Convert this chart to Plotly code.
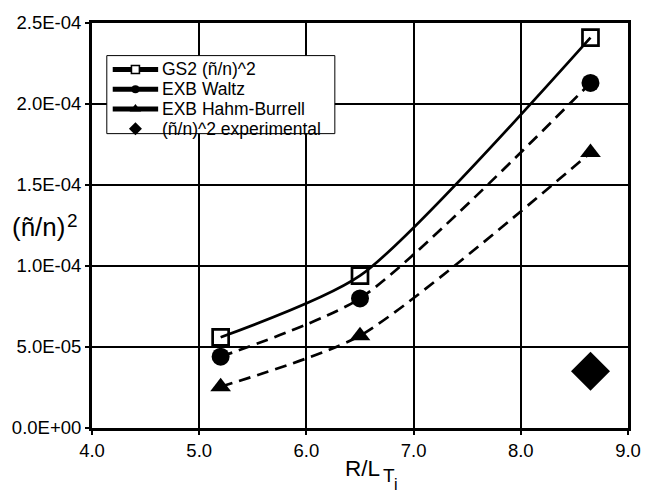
import plotly.graph_objects as go

# R/L_Ti values of the three simulated cases
r_lti = [5.2, 6.5, 8.65]
gs2_fluct = [5.6e-05, 9.4e-05, 2.41e-04]
exb_waltz = [4.4e-05, 8.0e-05, 2.13e-04]
exb_hahm_burrell = [2.55e-05, 5.7e-05, 1.70e-04]

# experimental point
exp_x = [8.65]
exp_fluct = [3.5e-05]

y_ticks = [0, 5e-05, 1e-04, 1.5e-04, 2e-04, 2.5e-04]
y_tick_text = ["0.0E+00", "5.0E-05", "1.0E-04", "1.5E-04", "2.0E-04", "2.5E-04"]
x_ticks = [4, 5, 6, 7, 8, 9]
x_tick_text = ["4.0", "5.0", "6.0", "7.0", "8.0", "9.0"]

legend_names = ["GS2 (ñ/n)^2", "EXB Waltz", "EXB Hahm-Burrell", "(ñ/n)^2 experimental"]

FONT = "Liberation Sans, Arial, Helvetica, sans-serif"
SMOOTH = 0.65
W, H = 653, 493
L, R, T, B = 92, 18, 18, 65   # plot margins in px
X_RANGE = [4, 9]
Y_RANGE = [0, 2.5e-04]


def px_x(p):
    return (p - L) / (W - L - R)


def px_y(p):
    return (H - B - p) / (H - T - B)


def dx(p):  # pixel column -> x data value
    return X_RANGE[0] + px_x(p) * (X_RANGE[1] - X_RANGE[0])


def dy(p):  # pixel row -> y data value
    return Y_RANGE[0] + px_y(p) * (Y_RANGE[1] - Y_RANGE[0])


fig = go.Figure()

# plotted series
fig.add_trace(go.Scatter(
    x=r_lti, y=gs2_fluct, mode="lines+markers", showlegend=False,
    line=dict(color="black", width=2.7, shape="spline", smoothing=SMOOTH),
    marker=dict(symbol="square-open", size=16, color="black", line=dict(width=2.7, color="black")),
))
fig.add_trace(go.Scatter(
    x=r_lti, y=exb_waltz, mode="lines+markers", showlegend=False,
    line=dict(color="black", width=2.7, shape="spline", smoothing=SMOOTH, dash="12px,7px"),
    marker=dict(symbol="circle", size=18, color="black"),
))
fig.add_trace(go.Scatter(
    x=r_lti, y=exb_hahm_burrell, mode="lines+markers", showlegend=False,
    line=dict(color="black", width=2.7, shape="spline", smoothing=SMOOTH, dash="12px,7px"),
    marker=dict(symbol="triangle-up", size=18, color="black"),
))
fig.add_trace(go.Scatter(
    x=exp_x, y=exp_fluct, mode="markers", showlegend=False,
    marker=dict(symbol="diamond", size=30, color="black"),
))

# ---- legend box (pixel layout converted to axis coordinates) ----
box_x0, box_y0, box_x1, box_y1 = 107, 51, 338, 130
row_y0, row_step = 65, 20
sample_x0, sample_x1, text_x = 113, 159, 161
sample_mid = (sample_x0 + sample_x1) / 2

legend_markers = [
    dict(symbol="square", size=8, color="white", line=dict(width=1.6, color="black")),
    dict(symbol="circle", size=8, color="black"),
    dict(symbol="triangle-up", size=10, color="black"),
    dict(symbol="diamond", size=10, color="black"),
]

shapes = [dict(type="rect", xref="x", yref="y",
               x0=dx(box_x0), y0=dy(box_y0), x1=dx(box_x1), y1=dy(box_y1),
               fillcolor="white", line=dict(color="black", width=1), layer="between")]
annotations = []
for i, (name, mk) in enumerate(zip(legend_names, legend_markers)):
    ry = row_y0 + i * row_step
    if i < 3:
        shapes.append(dict(type="line", xref="x", yref="y",
                           x0=dx(sample_x0), x1=dx(sample_x1), y0=dy(ry), y1=dy(ry),
                           line=dict(color="black", width=5), layer="between"))
    fig.add_trace(go.Scatter(x=[dx(sample_mid)], y=[dy(ry)], mode="markers", marker=mk,
                             showlegend=False, hoverinfo="skip", cliponaxis=False))
    annotations.append(dict(text=name, xref="x", yref="y", x=dx(text_x), y=dy(ry),
                            xanchor="left", yanchor="middle", showarrow=False,
                            font=dict(family=FONT, size=17.5, color="black")))

# ---- axis titles ----
annotations += [
    dict(text="(ñ/n)", xref="paper", yref="paper", x=px_x(9), y=px_y(225),
         xanchor="left", yanchor="middle", showarrow=False,
         font=dict(family=FONT, size=26, color="black")),
    dict(text="2", xref="paper", yref="paper", x=px_x(65), y=px_y(218),
         xanchor="left", yanchor="middle", showarrow=False,
         font=dict(family=FONT, size=19, color="black")),
    dict(text="R/L", xref="paper", yref="paper", x=px_x(346), y=px_y(469),
         xanchor="left", yanchor="middle", showarrow=False,
         font=dict(family=FONT, size=22.5, color="black")),
    dict(text="T", xref="paper", yref="paper", x=px_x(385), y=px_y(476),
         xanchor="left", yanchor="middle", showarrow=False,
         font=dict(family=FONT, size=19, color="black")),
    dict(text="i", xref="paper", yref="paper", x=px_x(400), y=px_y(485),
         xanchor="center", yanchor="middle", showarrow=False,
         font=dict(family=FONT, size=16, color="black")),
]

axis_common = dict(
    showline=True, linecolor="black", linewidth=3, mirror=True,
    showgrid=True, gridcolor="black", gridwidth=1.6,
    ticks="outside", ticklen=4, tickcolor="black", tickwidth=1.5,
    zeroline=False,
    tickfont=dict(family=FONT, size=18.5, color="black"),
)

fig.update_layout(
    width=W, height=H,
    margin=dict(l=L, r=R, t=T, b=B),
    paper_bgcolor="white", plot_bgcolor="white",
    font=dict(family=FONT, color="black"),
    showlegend=False,
    xaxis=dict(range=X_RANGE, tickvals=x_ticks, ticktext=x_tick_text, **axis_common),
    yaxis=dict(range=Y_RANGE, tickvals=y_ticks, ticktext=y_tick_text, **axis_common),
    shapes=shapes,
    annotations=annotations,
)

fig.write_html("out.html")
